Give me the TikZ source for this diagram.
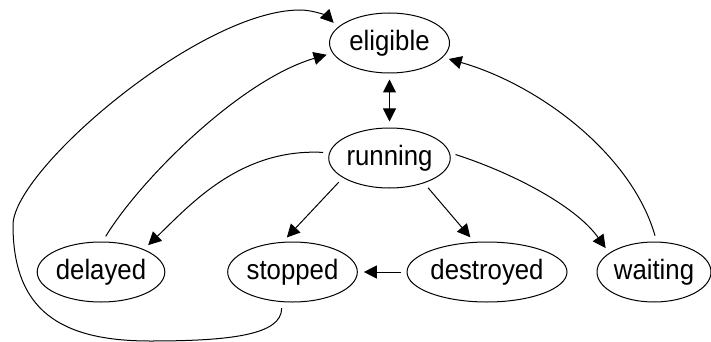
\documentclass[tikz,border=0pt]{standalone}
\usepackage{fontspec}
\setmainfont{Liberation Sans}[FakeStretch=0.92]
\usepackage{tikz}
\usetikzlibrary{arrows.meta}
\usetikzlibrary{shapes}
\tikzstyle{state}=[ellipse, draw, line width=.5pt, inner sep=0pt, minimum height=30pt, font=\fontsize{14}{16}\selectfont]
\tikzstyle{trans}=[line width=.5pt, ->, shorten <=3pt, shorten >=3pt]

\begin{document}
\begin{tikzpicture}[x=.5pt, y=-.5pt, >={Triangle[length=6.5pt,width=6.5pt]}]
	\useasboundingbox (0,0) rectangle (711,342);
	\node[state, minimum width=60pt] (eligible) at (389.5,43) {eligible};
	\node[state, minimum width=60pt] (running) at (389.5,158) {running};
	\node[state, minimum width=60pt] (delayed) at (101,272) {delayed};
	\node[state, minimum width=59.5pt] (stopped) at (292.5,272) {stopped};
	\node[state, minimum width=72pt] (destroyed) at (487,272) {destroyed};
	\node[state, minimum width=57pt] (waiting) at (654,272) {waiting};
	\draw[trans, <->] (eligible.south) -- (running.north);
	\draw[trans] (running.175) .. controls (240,148) and (190,205) .. (delayed.28);
	\draw[trans] (running.203) -- (stopped.108);
	\draw[trans] (running.324) -- (destroyed.113);
	\draw[trans] (running.5) .. controls (510,172) and (575,205) .. (waiting.157);
	\draw[trans] (destroyed.west) -- (stopped.east);
	\draw[trans] (waiting.85) .. controls (632,155) and (540,85) .. (eligible.345);
	\draw[trans] (delayed.87) .. controls (140,180) and (240,80) .. (eligible.190);
	% stopped goes all the way round the left side
	\draw[trans] (stopped.250) .. controls (282,335) and (230,341) .. (150,341)
		.. controls (60,341) and (13,310) .. (13,225)
		.. controls (13,170) and (200,10) .. (300,10)
		.. controls (315,10) and (328,17) .. (eligible.163);
\end{tikzpicture}
\end{document}
